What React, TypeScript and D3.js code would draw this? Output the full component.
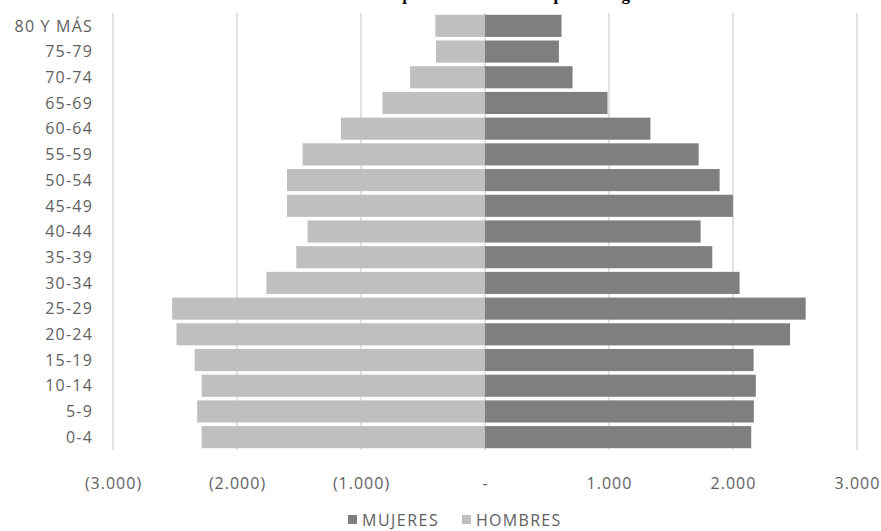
import React from "react";
import * as d3 from "d3";

const categories = ["80 Y MÁS","75-79","70-74","65-69","60-64","55-59","50-54","45-49","40-44","35-39","30-34","25-29","20-24","15-19","10-14","5-9","0-4"];
const hombres = [400,395,604,827,1162,1471,1597,1597,1431,1522,1763,2523,2488,2341,2285,2321,2285];
const mujeres = [617,596,706,988,1334,1723,1892,1999,1739,1833,2053,2586,2460,2166,2184,2168,2147];
const tickValues = [-3000,-2000,-1000,0,1000,2000,3000];
const tickLabels = ["(3.000)","(2.000)","(1.000)","-","1.000","2.000","3.000"];
const seriesNames = ["MUJERES","HOMBRES"];
const title = "Estructura de la población del municipio de Bogotá";

const W = 881, H = 531;
const DARK = "#7f7f7f", LIGHT = "#bfbfbf", GRID = "#d9d9d9", TXT = "#5f5f5f";
const FONT = "'Open Sans', sans-serif";

export default function App() {
  const x = d3.scaleLinear().domain([-3000, 3000]).range([113, 857]);
  const y = d3.scaleBand<string>().domain(categories).range([13, 450]).paddingInner(0.14).paddingOuter(0.07);
  const bw = y.bandwidth();
  return (
    <svg width={W} height={H} style={{ position: "absolute", left: 0, top: 0, background: "#fff" }}>
      <text x={280} y={0} fontFamily="'Liberation Serif', serif" fontWeight="bold" fontSize={17} fill="#000">{title}</text>
      {tickValues.map((t, i) => (
        <line key={"g" + i} x1={x(t)} x2={x(t)} y1={13} y2={450} stroke={GRID} strokeWidth={1.5} />
      ))}
      {categories.map((c, i) => (
        <g key={c}>
          <rect x={x(-hombres[i])} y={y(c)} width={x(0) - x(-hombres[i])} height={bw} fill={LIGHT} />
          <rect x={x(0)} y={y(c)} width={x(mujeres[i]) - x(0)} height={bw} fill={DARK} />
          <text x={93} y={(y(c) as number) + bw / 2} dy="0.36em" textAnchor="end" fontFamily={FONT} fontSize={16} letterSpacing={1.2} fill={TXT}>{c}</text>
        </g>
      ))}
      {tickValues.map((t, i) => (
        <text key={"t" + i} x={x(t) + 0.5} y={483} dy="0.36em" textAnchor="middle" fontFamily={FONT} fontSize={16} letterSpacing={1} fill={TXT}>{tickLabels[i]}</text>
      ))}
      <rect x={348} y={515} width={9} height={9} fill={DARK} />
      <text x={362} y={520} dy="0.36em" fontFamily={FONT} fontSize={16} letterSpacing={1.5} fill={TXT}>{seriesNames[0]}</text>
      <rect x={462} y={515} width={9} height={9} fill={LIGHT} />
      <text x={476} y={520} dy="0.36em" fontFamily={FONT} fontSize={16} letterSpacing={1.3} fill={TXT}>{seriesNames[1]}</text>
    </svg>
  );
}
